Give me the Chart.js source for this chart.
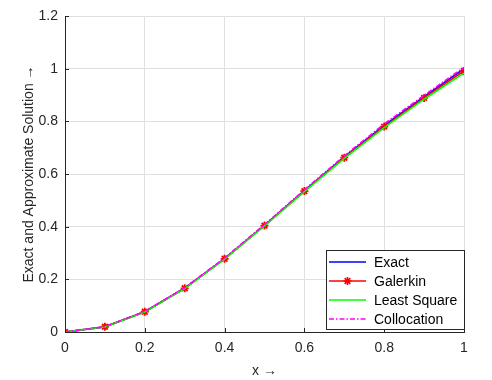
<!DOCTYPE html>
<html>
<head>
<meta charset="utf-8">
<script src="https://cdn.jsdelivr.net/npm/chart.js@4/dist/chart.umd.min.js"></script>
<style>
  html, body { margin: 0; padding: 0; background: #fff; }
  #wrap { width: 492px; height: 380px; }
</style>
</head>
<body>
<div id="wrap"><canvas id="solChart"></canvas></div>
<script>
// values
const xValues = [0, 0.1, 0.2, 0.3, 0.4, 0.5, 0.6, 0.7, 0.8, 0.9, 1.0];
const exactValues = [0, 0.0195, 0.077, 0.167, 0.279, 0.405, 0.537, 0.665, 0.785, 0.894, 1.0];
const galerkinValues = [0, 0.02, 0.077, 0.166, 0.278, 0.404, 0.535, 0.662, 0.780, 0.889, 0.991];
const leastSquareValues = [0, 0.019, 0.076, 0.165, 0.277, 0.403, 0.533, 0.659, 0.776, 0.884, 0.983];
const collocationValues = [0, 0.02, 0.078, 0.168, 0.281, 0.408, 0.540, 0.669, 0.790, 0.899, 1.005];
const xTicks = [0, 0.2, 0.4, 0.6, 0.8, 1];
const yTicks = [0, 0.2, 0.4, 0.6, 0.8, 1, 1.2];

const FONT = '"Liberation Sans", Arial, sans-serif';
const AXIS = '#262626';

function pts(ys) {
  return xValues.map((x, i) => ({ x: x, y: ys[i] }));
}

function asterisk(ctx, x, y, r) {
  ctx.beginPath();
  for (let k = 0; k < 4; k++) {
    const a = k * Math.PI / 4;
    ctx.moveTo(x - r * Math.cos(a), y - r * Math.sin(a));
    ctx.lineTo(x + r * Math.cos(a), y + r * Math.sin(a));
  }
  ctx.stroke();
}

// MATLAB style inward tick marks
const inwardTicks = {
  id: 'inwardTicks',
  afterDraw(chart) {
    const ctx = chart.ctx;
    const xs = chart.scales.x, ys = chart.scales.y;
    const a = chart.chartArea;
    ctx.save();
    ctx.strokeStyle = AXIS;
    ctx.lineWidth = 1;
    ctx.beginPath();
    xTicks.forEach(v => {
      const px = Math.round(xs.getPixelForValue(v)) + 0.5;
      ctx.moveTo(px, a.bottom);
      ctx.lineTo(px, a.bottom - 4);
    });
    yTicks.forEach(v => {
      const py = Math.round(ys.getPixelForValue(v)) + 0.5;
      ctx.moveTo(a.left, py);
      ctx.lineTo(a.left + 4, py);
    });
    ctx.stroke();
    ctx.restore();
  }
};

// legend box inside the plot, bottom right
const boxLegend = {
  id: 'boxLegend',
  afterDraw(chart) {
    const ctx = chart.ctx;
    const a = chart.chartArea;
    const w = 138, h = 79;
    const left = a.right - w, top = a.bottom - 3 - h;
    ctx.save();
    ctx.fillStyle = '#fff';
    ctx.fillRect(left, top, w, h);
    ctx.strokeStyle = AXIS;
    ctx.lineWidth = 1;
    ctx.strokeRect(left + 0.5, top + 0.5, w, h);
    ctx.font = '14px ' + FONT;
    ctx.textBaseline = 'middle';
    chart.data.datasets.forEach((ds, i) => {
      const y = top + 12 + i * 19;
      ctx.strokeStyle = ds.borderColor;
      ctx.lineWidth = 1.6;
      ctx.setLineDash(ds.borderDash || []);
      ctx.beginPath();
      ctx.moveTo(left + 3, y);
      ctx.lineTo(left + 40, y);
      ctx.stroke();
      ctx.setLineDash([]);
      if (ds.pointRadius > 0) {
        ctx.lineWidth = 1.6;
        asterisk(ctx, left + 21.5, y, 4);
      }
      ctx.fillStyle = '#000';
      ctx.fillText(ds.label, left + 48, y + 1);
    });
    ctx.restore();
  }
};

new Chart(document.getElementById('solChart'), {
  type: 'line',
  data: {
    datasets: [
      { label: 'Exact', data: pts(exactValues), borderColor: '#0000ff', borderWidth: 1.6, pointRadius: 0, order: 4 },
      { label: 'Galerkin', data: pts(galerkinValues), borderColor: '#ff0000', borderWidth: 1.6,
        pointStyle: 'star', pointRadius: 4, pointBorderWidth: 1.8, pointBorderColor: '#ff0000', pointBackgroundColor: '#ff0000', order: 3 },
      { label: 'Least Square', data: pts(leastSquareValues), borderColor: '#00ff00', borderWidth: 1.6, pointRadius: 0, order: 2 },
      { label: 'Collocation', data: pts(collocationValues), borderColor: '#ff00ff', borderWidth: 1.6,
        borderDash: [5, 2, 1.5, 2], pointRadius: 0, order: 1 }
    ]
  },
  options: {
    responsive: true,
    maintainAspectRatio: false,
    animation: false,
    layout: { padding: { top: 16, right: 28, left: 0, bottom: 0 } },
    plugins: { legend: { display: false }, tooltip: { enabled: false } },
    elements: { line: { tension: 0 } },
    scales: {
      x: {
        type: 'linear', min: 0, max: 1,
        afterFit: s => { s.height = 48; },
        afterBuildTicks: s => { s.ticks = xTicks.map(v => ({ value: v })); },
        ticks: { color: AXIS, padding: 8, font: { family: FONT, size: 14 }, callback: v => String(v) },
        grid: { color: '#dfdfdf', drawTicks: false },
        border: { color: AXIS, width: 1 },
        title: { display: true, text: 'x \u2192', color: AXIS, font: { family: FONT, size: 14 }, padding: { top: 6, bottom: 0 } }
      },
      y: {
        min: 0, max: 1.2,
        afterFit: s => { s.width = 65; },
        afterBuildTicks: s => { s.ticks = yTicks.map(v => ({ value: v })); },
        ticks: { color: AXIS, padding: 7, font: { family: FONT, size: 14 }, callback: v => String(v) },
        grid: { color: '#dfdfdf', drawTicks: false },
        border: { color: AXIS, width: 1 },
        title: { display: true, text: 'Exact and Approximate Solution \u2192', color: AXIS, font: { family: FONT, size: 14 }, padding: { top: 21, bottom: 0 } }
      }
    }
  },
  plugins: [inwardTicks, boxLegend]
});
</script>
</body>
</html>
